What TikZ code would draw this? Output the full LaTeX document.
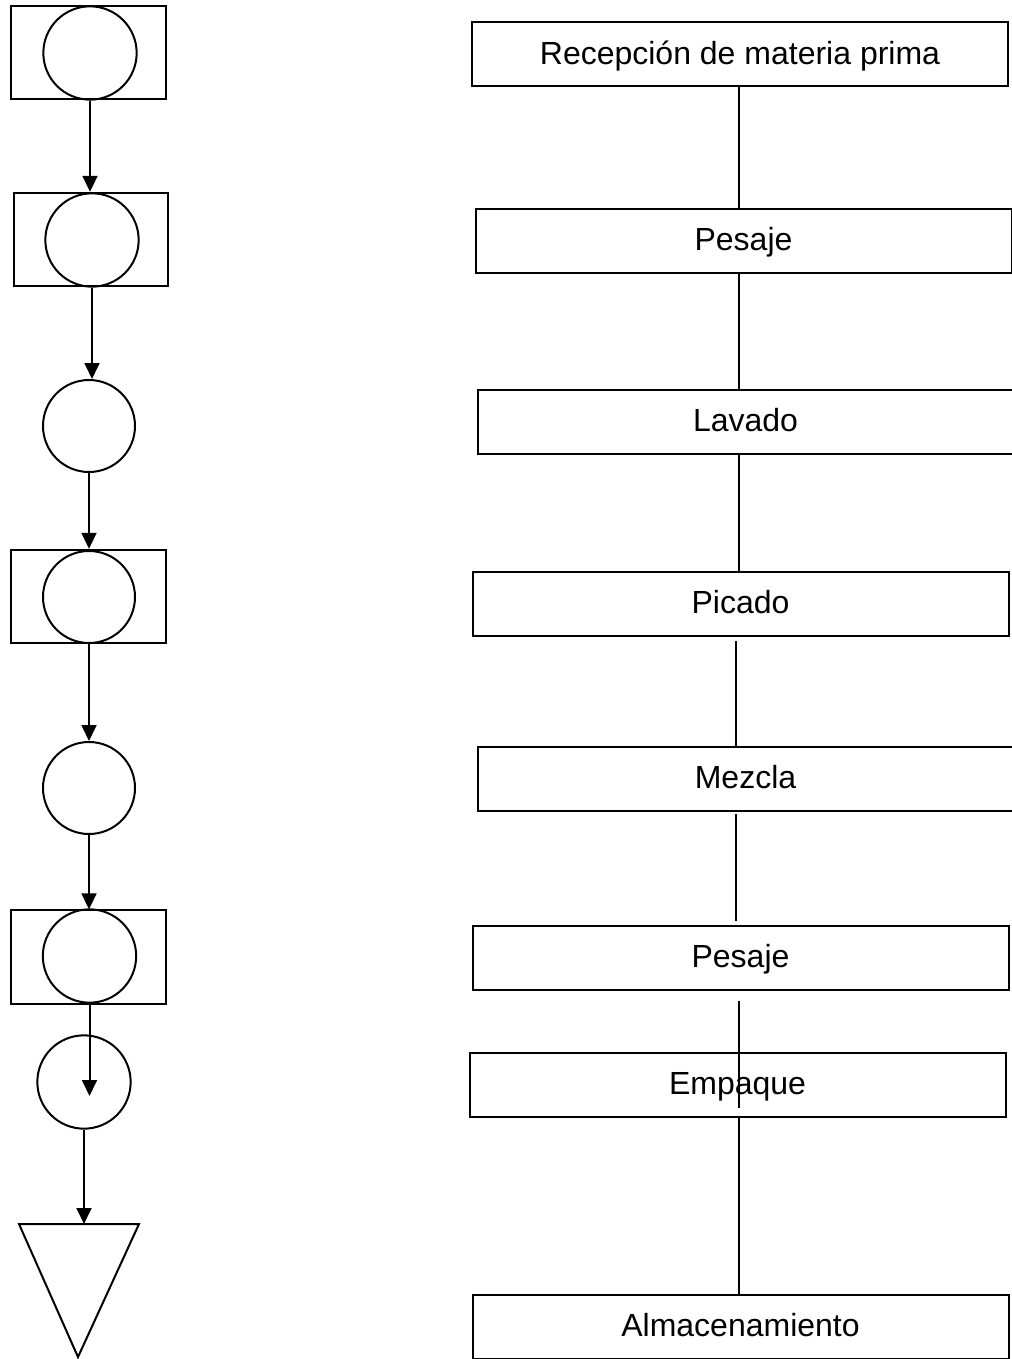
\documentclass[tikz,border=0pt]{standalone}
\usepackage{fontspec}
\setmainfont{Liberation Sans}
\usetikzlibrary{arrows.meta}

\begin{document}
\begin{tikzpicture}[x=0.375pt,y=-0.375pt,line width=0.75pt,
    op/.style={draw,circle,minimum size=35pt,inner sep=0pt},
    insp/.style={draw,rectangle,minimum width=58pt,minimum height=35pt,inner sep=0pt},
    stage/.style={draw,rectangle,minimum width=201pt,minimum height=24pt,inner sep=0pt,
      text height=10pt,text depth=2.6pt,font=\fontsize{12}{14}\selectfont},
    flow/.style={-{Triangle[width=5.6pt,length=6pt]}}]
    \useasboundingbox (0,0) rectangle (1011,1359);
    % simbolos del diagrama
    \node[insp] (b1) at (88.5,52.5) {};
    \node[op] (c1) at (90,53) {};
    \node[insp] (b2) at (91,239.5) {};
    \node[op] (c2) at (92,240) {};
    \node[op,minimum size=34.5pt] (c3) at (89,426) {};
    \node[insp] (b4) at (88.5,596.5) {};
    \node[op,minimum size=34.5pt] (c4) at (89,597) {};
    \node[op,minimum size=34.5pt] (c5) at (89,788) {};
    \node[insp] (b6) at (88.5,957) {};
    \node[op] (c6) at (89.5,956) {};
    \node[op] (c7) at (84,1082) {};
    \coordinate (tl) at (19,1224);
    \coordinate (tr) at (139,1224);
    \coordinate (tb) at (78,1357);
    \draw (tl) -- (tr) -- (tb) -- cycle;
    \coordinate (e6) at (89,1096);
    \draw[flow] (c1.south) -- (c1.south |- b2.north);
    \draw[flow] (c2.south) -- (c2.south |- c3.north);
    \draw[flow] (c3.south) -- (c3.south |- b4.north);
    \draw[flow] (c4.south) -- (c4.south |- c5.north);
    \draw[flow] (c5.south) -- (c5.south |- b6.north);
    \draw[flow] (c6.south) -- (c6.south |- e6);
    \draw[flow] (c7.south) -- (c7.south |- tl);
    % etapas
    \node[stage] (r1) at (740,54.5) {Recepción de materia prima};
    \node[stage] (r2) at (743.5,241) {Pesaje};
    \node[stage] (r3) at (745.5,422) {Lavado};
    \node[stage] (r4) at (740.5,603.5) {Picado};
    \node[stage] (r5) at (745.5,779) {Mezcla};
    \node[stage] (r6) at (740.5,958) {Pesaje};
    \node[stage] (r7) at (737.5,1085) {Empaque};
    \node[stage] (r8) at (740.5,1326.5) {Almacenamiento};
    \coordinate (axis) at (739,0);
    \coordinate (l4a) at (736,641);
    \coordinate (l5a) at (736,814);
    \coordinate (l5b) at (736,921);
    \coordinate (l6a) at (739,1001);
    \coordinate (l6b) at (739,1108);
    \draw (axis |- r1.south) -- (axis |- r2.north);
    \draw (axis |- r2.south) -- (axis |- r3.north);
    \draw (axis |- r3.south) -- (axis |- r4.north);
    \draw (l4a) -- (l4a |- r5.north);
    \draw (l5a) -- (l5b);
    \draw (l6a) -- (l6b);
    \draw (axis |- r7.south) -- (axis |- r8.north);
\end{tikzpicture}
\end{document}
